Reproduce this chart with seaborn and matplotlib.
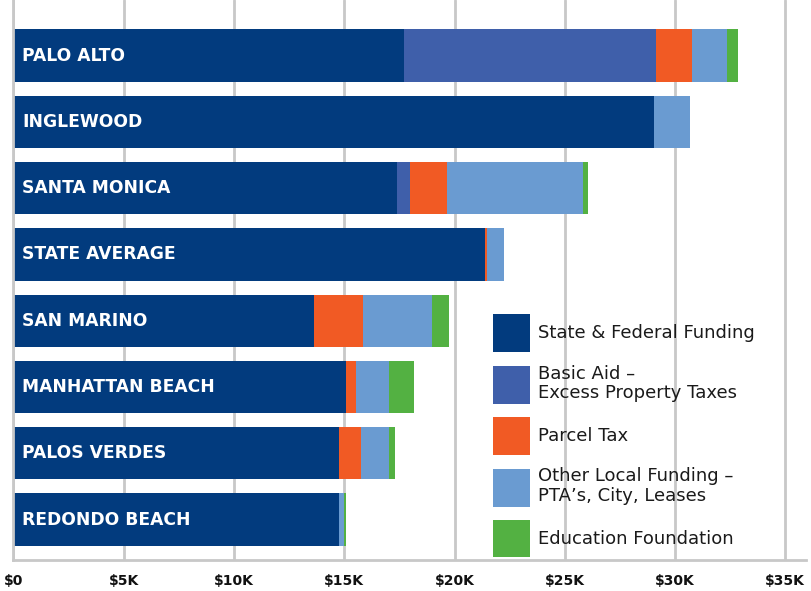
import pandas as pd
import matplotlib.pyplot as plt
import seaborn as sns
from matplotlib.patches import Patch

# values in $K per student
districts = ['PALO ALTO', 'INGLEWOOD', 'SANTA MONICA', 'STATE AVERAGE',
             'SAN MARINO', 'MANHATTAN BEACH', 'PALOS VERDES', 'REDONDO BEACH']
state_federal = [17.70, 29.03, 17.39, 21.40, 13.63, 15.07, 14.74, 14.74]
basic_aid = [11.42, 0.0, 0.60, 0.0, 0.0, 0.0, 0.0, 0.0]
parcel_tax = [1.64, 0.0, 1.68, 0.07, 2.22, 0.45, 1.02, 0.0]
other_local = [1.59, 1.63, 6.14, 0.76, 3.15, 1.52, 1.28, 0.24]
edu_foundation = [0.52, 0.0, 0.26, 0.0, 0.76, 1.11, 0.26, 0.09]

series_names = ['State & Federal Funding', 'Basic Aid –\nExcess Property Taxes',
                'Parcel Tax', 'Other Local Funding –\nPTA’s, City, Leases',
                'Education Foundation']
colors = ['#023b7e', '#3f5faa', '#f15a24', '#6a9bd1', '#53b142']
tick_vals = [0, 5, 10, 15, 20, 25, 30, 35]
tick_labels = ['$0', '$5K', '$10K', '$15K', '$20K', '$25K', '$30K', '$35K']

df = pd.DataFrame({'district': districts, 's0': state_federal, 's1': basic_aid,
                   's2': parcel_tax, 's3': other_local, 's4': edu_foundation})
cols = ['s0', 's1', 's2', 's3', 's4']
cum = df[cols].cumsum(axis=1)

sns.set_theme(style="white")
plt.rcParams['font.family'] = ['DejaVu Sans']

fig = plt.figure(figsize=(8.12, 5.91), dpi=100)
ax = fig.add_axes([13.5 / 812, 31 / 591, (806 - 13.5) / 812, 560 / 591])

# stacked bars: draw cumulative totals from the outside in
for i in reversed(range(len(cols))):
    sns.barplot(x=cum[cols[i]], y=df['district'], orient='h', color=colors[i],
                width=0.79, ax=ax, saturation=1, linewidth=0, zorder=2)

ax.set_xlim(0, 35.94)
ax.set_ylim(7.61, -0.84)
ax.set_xticks(tick_vals)
ax.set_xticklabels(tick_labels, fontsize=10, fontweight='bold', color='#111111')
ax.set_yticks([])
ax.set_xlabel('')
ax.set_ylabel('')
ax.tick_params(axis='x', length=0, pad=10)
ax.grid(axis='x', color='#c8c8c8', linewidth=2, zorder=0)
ax.set_axisbelow(True)
for side in ['top', 'right']:
    ax.spines[side].set_visible(False)
for side in ['left', 'bottom']:
    ax.spines[side].set_color('#c8c8c8')
    ax.spines[side].set_linewidth(2)

# district names inside the bars
for idx, name in enumerate(districts):
    ax.text(0.38, idx, name, color='white', fontsize=12.3, fontweight='bold',
            va='center', ha='left', zorder=5)

handles = [Patch(facecolor=c, edgecolor='none') for c in colors]
leg = fig.legend(handles, series_names, loc='upper left',
                 bbox_to_anchor=(493 / 812, 1 - 314 / 591),
                 bbox_transform=fig.transFigure, frameon=False,
                 fontsize=13, handlelength=2.05, handleheight=2.85,
                 handletextpad=0.45, labelspacing=0.71, borderaxespad=0,
                 borderpad=0)
for t in leg.get_texts():
    t.set_color('#1a1a1a')
    t.set_linespacing(1.1)

fig.savefig('out.png', dpi=100)
